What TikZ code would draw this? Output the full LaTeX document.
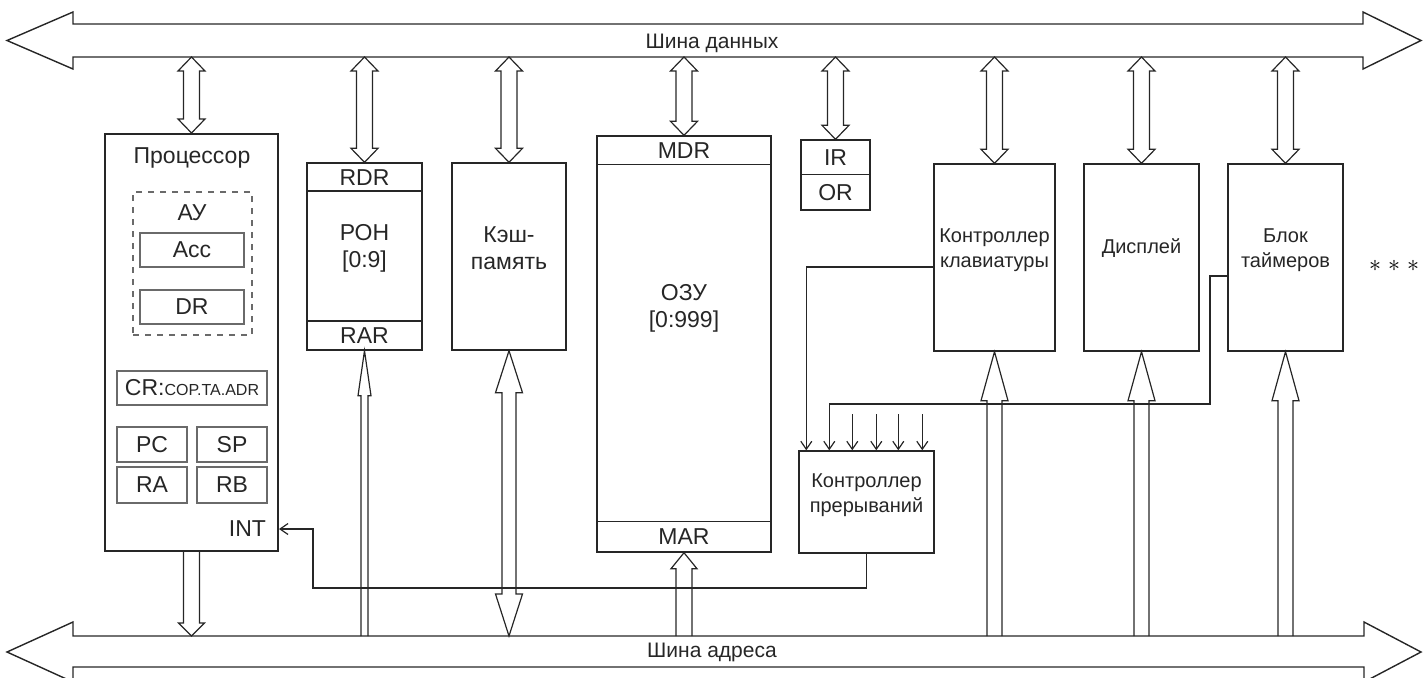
\documentclass[tikz,border=0pt]{standalone}
\usepackage{fontspec}
\setmainfont{Liberation Sans}
\usetikzlibrary{calc,fit,arrows.meta}
\definecolor{ink}{HTML}{262626}
\definecolor{regc}{HTML}{6A6A6A}

% block arrows: #1 top point, #2 bottom point, #3 half shaft, #4 half head, #5 head length
\newcommand{\dblblk}[5]{%
  \coordinate (tA) at (#1); \coordinate (tB) at (#2);
  \draw[blkarr] (tA) -- ($(tA)+(#4,#5)$) -- ($(tA)+(#3,#5)$) -- ($(tB)+(#3,-#5)$) -- ($(tB)+(#4,-#5)$) -- (tB)
    -- ($(tB)+(-#4,-#5)$) -- ($(tB)+(-#3,-#5)$) -- ($(tA)+(-#3,#5)$) -- ($(tA)+(-#4,#5)$) -- cycle;}
\newcommand{\upblk}[5]{%
  \coordinate (tA) at (#1); \coordinate (tB) at (#2);
  \draw[blkarr] ($(tB)+(#3,0)$) -- ($(tA)+(#3,#5)$) -- ($(tA)+(#4,#5)$) -- (tA)
    -- ($(tA)+(-#4,#5)$) -- ($(tA)+(-#3,#5)$) -- ($(tB)+(-#3,0)$);}
\newcommand{\downblk}[5]{%
  \coordinate (tA) at (#1); \coordinate (tB) at (#2);
  \draw[blkarr] ($(tA)+(-#3,0)$) -- ($(tB)+(-#3,-#5)$) -- ($(tB)+(-#4,-#5)$) -- (tB)
    -- ($(tB)+(#4,-#5)$) -- ($(tB)+(#3,-#5)$) -- ($(tA)+(#3,0)$);}

\begin{document}
\begin{tikzpicture}[x=0.5pt,y=-0.5pt,
    box/.style={draw=ink,line width=0.7pt,inner sep=0pt,text=ink,align=center,font=\fontsize{11.5}{13.5}\selectfont},
    ctl/.style={box,font=\fontsize{10}{12.5}\selectfont},
    reg/.style={draw=regc,line width=1pt,inner sep=0pt},
    lbl/.style={text=ink,align=center,font=\fontsize{11.5}{13.5}\selectfont},
    bus/.style={draw=ink,line width=0.7pt,line join=miter},
    blkarr/.style={draw=ink,line width=0.6pt},
    wire/.style={draw=ink,line width=0.6pt}]
  \tikzset{>={Straight Barb[length=4pt,width=5.5pt]}}
  \clip (0,0) rectangle (1424,677);

  \coordinate (dbus) at (0,57);
  \coordinate (abus) at (0,636);

  % buses
  \draw[bus] (73,24) -- (1363,24) -- (1363,12) -- (1421,40.5) -- (1363,69) -- (1363,57)
    -- (73,57) -- (73,69) -- (7,40.5) -- (73,12) -- cycle;
  \node[lbl,font=\fontsize{10.5}{12}\selectfont] (dname) at (712,43) {Шина данных};
  \draw[bus] (73,636) -- (1364,636) -- (1364,622) -- (1421,652) -- (1364,682) -- (1364,667)
    -- (73,667) -- (73,682) -- (7,652) -- (73,622) -- cycle;
  \node[lbl,font=\fontsize{10.5}{12}\selectfont] (aname) at (712,652) {Шина адреса};

  % processor
  \node[box,line width=1pt,fit={(105,134) (278,551)}] (cpu) {};
  \node[lbl] (cpuname) at (192,158) {Процессор};
  \node[draw=regc,dashed,line width=0.8pt,inner sep=0pt,fit={(133,192) (252,335)}] (au) {};
  \node[lbl] (auname) at (192,213) {АУ};
  \node[reg,fit={(140,233) (244,267)}] (acc) {};
  \node[reg,fit={(140,290) (244,324)}] (dr) {};
  \node[reg,fit={(117,371) (267,405)}] (cr) {};
  \node[reg,fit={(117,427) (187,462)}] (pc) {};
  \node[reg,fit={(197,427) (267,462)}] (sp) {};
  \node[reg,fit={(117,467) (187,503)}] (ra) {};
  \node[reg,fit={(197,467) (267,503)}] (rb) {};
  \node[lbl] at (acc) {Acc};
  \node[lbl] at (dr) {DR};
  \node[lbl] at (cr) {CR:{\fontsize{8}{10}\selectfont COP.TA.ADR}};
  \node[lbl] at (pc) {PC};
  \node[lbl] at (sp) {SP};
  \node[lbl] at (ra) {RA};
  \node[lbl] at (rb) {RB};
  \node[lbl,anchor=east] (intname) at (273,529) {INT};

  % registers, cache, memory
  \node[box,fit={(307,163) (422,350)}] (ron) {РОН\\{}[0:9]};
  \draw[ink,line width=1pt] ($(ron.north west)+(0,29)$) -- ($(ron.north east)+(0,29)$);
  \draw[ink,line width=1pt] ($(ron.north west)+(0,159)$) -- ($(ron.north east)+(0,159)$);
  \node[lbl] (rdr) at (364.5,177.5) {RDR};
  \node[lbl] (rar) at (364.5,336) {RAR};

  \node[box,fit={(452,163) (566,350)}] (cache) {Кэш-\\память};

  \node[box,fit={(597,136) (771,552)}] (ram) {};
  \draw[ink,line width=0.7pt] ($(ram.north west)+(0,29)$) -- ($(ram.north east)+(0,29)$);
  \draw[ink,line width=0.7pt] ($(ram.north west)+(0,386)$) -- ($(ram.north east)+(0,386)$);
  \node[lbl] (mdr) at (684,150.5) {MDR};
  \node[lbl] (ramname) at (684,308) {ОЗУ\\{}[0:999]};
  \node[lbl] (mar) at (684,537) {MAR};

  \node[box,fit={(801,140) (870,210)}] (io) {};
  \draw[ink,line width=0.7pt] ($(io.north west)+(0,35)$) -- ($(io.north east)+(0,35)$);
  \node[lbl] (ir) at (835.5,157.5) {IR};
  \node[lbl] (or) at (835.5,192.5) {OR};

  % devices
  \node[ctl,fit={(934,164) (1055,351)}] (kbd) {Контроллер\\клавиатуры};
  \node[ctl,fit={(1084,164) (1199,351)}] (disp) {};
  \node[lbl,font=\fontsize{10}{12.5}\selectfont] (dispname) at (1141.5,248) {Дисплей};
  \node[ctl,fit={(1228,164) (1343,351)}] (tmr) {Блок\\таймеров};
  \node[ctl,fit={(799,451) (934,553)}] (intc) {Контроллер\\прерываний};
  \node[text=black,inner sep=0pt,font=\fontsize{12}{12}\selectfont] (more) at (1394,266)
    {${\ast}\hspace{3.5pt}{\ast}\hspace{3.5pt}{\ast}$};

  % data bus links
  \foreach \n in {cpu,ron,cache,ram,io,kbd,disp,tmr}
    \dblblk{\n.north |- dbus}{\n.north}{8}{13.5}{14};

  % address bus links
  \downblk{cpu.south}{cpu.south |- abus}{8}{13}{13};
  \upblk{ron.south}{ron.south |- abus}{3.5}{6.5}{45};
  \dblblk{cache.south}{cache.south |- abus}{7}{13.5}{42};
  \upblk{ram.south}{ram.south |- abus}{8}{13}{16};
  \foreach \n in {kbd,disp,tmr}
    \upblk{\n.south}{\n.south |- abus}{7.5}{13.5}{49};

  % interrupt lines
  \coordinate (kbrow) at (0,267);
  \coordinate (tmrow) at (0,276);
  \coordinate (introw) at (0,588);
  \draw[wire,->] (kbd.west |- kbrow) -| ($(intc.north west)+(8,0)$);
  \draw[wire,->] (tmr.west |- tmrow) -- (1210,276) -- (1210,404) -| ($(intc.north west)+(31,0)$);
  \foreach \dx in {54,78,100,124}
    \draw[wire,->] ($(intc.north west)+(\dx,-36)$) -- ($(intc.north west)+(\dx,0)$);
  \draw[wire,->] (intc.south) -- (intc.south |- introw) -- (313,588) -- (313,529) -- (cpu.east |- intname.east);
\end{tikzpicture}
\end{document}
